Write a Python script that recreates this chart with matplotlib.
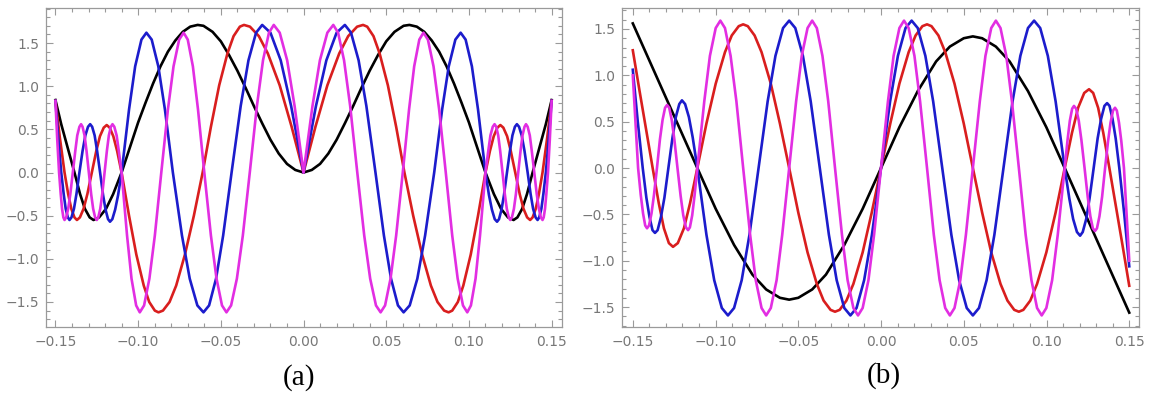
import matplotlib.pyplot as plt
from matplotlib.ticker import MultipleLocator
import numpy as np

# (x, y) points, panel (a)
a_black = [(-0.15, 0.84), (-0.1465, 0.56), (-0.1425, 0.28), (-0.1385, 0.0), (-0.1351, -0.25), (-0.1322, -0.42),
           (-0.1293, -0.52), (-0.127, -0.55), (-0.1236, -0.52), (-0.1194, -0.42), (-0.1151, -0.25), (-0.11, 0.0),
           (-0.105, 0.29), (-0.1, 0.58), (-0.0955, 0.81), (-0.091, 1.03), (-0.0865, 1.23), (-0.082, 1.40),
           (-0.0775, 1.53), (-0.073, 1.63), (-0.0685, 1.69), (-0.064, 1.71), (-0.0605, 1.70), (-0.055, 1.63),
           (-0.05, 1.52), (-0.045, 1.36), (-0.04, 1.18), (-0.035, 0.98), (-0.03, 0.77), (-0.025, 0.57),
           (-0.02, 0.38), (-0.015, 0.22), (-0.01, 0.10), (-0.005, 0.03), (0.0, 0.0),
           (0.005, 0.03), (0.01, 0.10), (0.015, 0.22), (0.02, 0.38), (0.025, 0.57), (0.03, 0.77), (0.035, 0.98),
           (0.04, 1.18), (0.045, 1.36), (0.05, 1.52), (0.055, 1.63), (0.0605, 1.70), (0.064, 1.71), (0.0685, 1.69),
           (0.073, 1.63), (0.0775, 1.53), (0.082, 1.40), (0.0865, 1.23), (0.091, 1.03), (0.0955, 0.81), (0.1, 0.58),
           (0.105, 0.29), (0.11, 0.0), (0.1151, -0.25), (0.1194, -0.42), (0.1236, -0.52), (0.127, -0.55),
           (0.1293, -0.52), (0.1322, -0.42), (0.1351, -0.25), (0.1385, 0.0), (0.1425, 0.28), (0.1465, 0.56),
           (0.15, 0.84)]

a_red = [(-0.15, 0.83), (-0.1473, 0.40), (-0.1445, 0.0), (-0.1423, -0.25), (-0.1404, -0.42), (-0.1385, -0.52),
         (-0.137, -0.55), (-0.1352, -0.52), (-0.133, -0.42), (-0.1307, -0.25), (-0.128, 0.0), (-0.1253, 0.25),
         (-0.1231, 0.42), (-0.1208, 0.52), (-0.119, 0.55), (-0.1172, 0.52), (-0.115, 0.42), (-0.1127, 0.25),
         (-0.11, 0.0), (-0.1055, -0.50), (-0.1011, -0.95), (-0.0966, -1.31), (-0.0933, -1.50), (-0.0899, -1.60),
         (-0.0877, -1.62), (-0.085, -1.60), (-0.081, -1.50), (-0.077, -1.31), (-0.0717, -0.95), (-0.0663, -0.50),
         (-0.061, 0.0), (-0.056, 0.53), (-0.051, 1.01), (-0.046, 1.38), (-0.0423, 1.58), (-0.0385, 1.69),
         (-0.036, 1.71), (-0.0324, 1.69), (-0.027, 1.58), (-0.0216, 1.38), (-0.0144, 1.01), (-0.0072, 0.53),
         (0.0, 0.0),
         (0.0072, 0.53), (0.0144, 1.01), (0.0216, 1.38), (0.027, 1.58), (0.0324, 1.69), (0.036, 1.71),
         (0.0385, 1.69), (0.0423, 1.58), (0.046, 1.38), (0.051, 1.01), (0.056, 0.53), (0.061, 0.0),
         (0.0663, -0.50), (0.0717, -0.95), (0.077, -1.31), (0.081, -1.50), (0.085, -1.60), (0.0877, -1.62),
         (0.0899, -1.60), (0.0933, -1.50), (0.0966, -1.31), (0.1011, -0.95), (0.1055, -0.50), (0.11, 0.0),
         (0.1127, 0.25), (0.115, 0.42), (0.1172, 0.52), (0.119, 0.55), (0.1208, 0.52), (0.1231, 0.42),
         (0.1253, 0.25), (0.128, 0.0), (0.1307, -0.25), (0.133, -0.42), (0.1352, -0.52), (0.137, -0.55),
         (0.1385, -0.52), (0.1404, -0.42), (0.1423, -0.25), (0.1445, 0.0), (0.1473, 0.40), (0.15, 0.83)]

a_blue = [(-0.15, 0.83), (-0.1483, 0.40), (-0.1465, 0.0), (-0.145, -0.25), (-0.1438, -0.42), (-0.1425, -0.52),
          (-0.1415, -0.55), (-0.1403, -0.52), (-0.1388, -0.42), (-0.1373, -0.25), (-0.1355, 0.0), (-0.1336, 0.25),
          (-0.1319, 0.43), (-0.1303, 0.53), (-0.129, 0.56), (-0.1278, 0.53), (-0.1263, 0.43), (-0.1248, 0.25),
          (-0.123, 0.0), (-0.1212, -0.26), (-0.1197, -0.43), (-0.1182, -0.54), (-0.117, -0.57), (-0.1156, -0.54),
          (-0.1139, -0.43), (-0.1121, -0.26), (-0.11, 0.0), (-0.1055, 0.73), (-0.1018, 1.23), (-0.098, 1.54),
          (-0.095, 1.62), (-0.0918, 1.54), (-0.0878, 1.23), (-0.0838, 0.73), (-0.079, 0.0), (-0.0735, -0.73),
          (-0.0688, -1.23), (-0.0642, -1.54), (-0.0605, -1.62), (-0.0571, -1.54), (-0.0529, -1.23),
          (-0.0486, -0.73), (-0.0435, 0.0), (-0.038, 0.77), (-0.0333, 1.30), (-0.0287, 1.62), (-0.025, 1.71),
          (-0.02, 1.62), (-0.0138, 1.30), (-0.0075, 0.77), (0.0, 0.0),
          (0.0075, 0.77), (0.0138, 1.30), (0.02, 1.62), (0.025, 1.71), (0.0287, 1.62), (0.0333, 1.30),
          (0.038, 0.77), (0.0435, 0.0), (0.0486, -0.73), (0.0529, -1.23), (0.0571, -1.54), (0.0605, -1.62),
          (0.0642, -1.54), (0.0688, -1.23), (0.0735, -0.73), (0.079, 0.0), (0.0838, 0.73), (0.0878, 1.23),
          (0.0918, 1.54), (0.095, 1.62), (0.098, 1.54), (0.1018, 1.23), (0.1055, 0.73), (0.11, 0.0),
          (0.1121, -0.26), (0.1139, -0.43), (0.1156, -0.54), (0.117, -0.57), (0.1182, -0.54), (0.1197, -0.43),
          (0.1212, -0.26), (0.123, 0.0), (0.1248, 0.25), (0.1263, 0.43), (0.1278, 0.53), (0.129, 0.56),
          (0.1303, 0.53), (0.1319, 0.43), (0.1336, 0.25), (0.1355, 0.0), (0.1373, -0.25), (0.1388, -0.42),
          (0.1403, -0.52), (0.1415, -0.55), (0.1425, -0.52), (0.1438, -0.42), (0.145, -0.25), (0.1465, 0.0),
          (0.1483, 0.40), (0.15, 0.83)]

a_magenta = [(-0.15, 0.83), (-0.1489, 0.38), (-0.1478, 0.0), (-0.1468, -0.25), (-0.146, -0.42), (-0.1452, -0.52),
             (-0.1445, -0.55), (-0.1435, -0.52), (-0.1423, -0.42), (-0.141, -0.25), (-0.1395, 0.0), (-0.138, 0.25),
             (-0.1368, 0.43), (-0.1355, 0.53), (-0.1345, 0.56), (-0.1336, 0.53), (-0.1324, 0.43), (-0.1312, 0.25),
             (-0.1298, 0.0), (-0.1284, -0.25), (-0.1272, -0.42), (-0.126, -0.52), (-0.125, -0.55), (-0.1241, -0.52),
             (-0.1229, -0.42), (-0.1217, -0.25), (-0.1203, 0.0), (-0.1189, 0.25), (-0.1177, 0.43), (-0.1165, 0.53),
             (-0.1155, 0.56), (-0.1144, 0.53), (-0.113, 0.43), (-0.1117, 0.25), (-0.11, 0.0), (-0.1067, -0.73),
             (-0.104, -1.23), (-0.1012, -1.54), (-0.099, -1.62), (-0.0964, -1.54), (-0.0932, -1.23),
             (-0.0899, -0.73), (-0.086, 0.0), (-0.082, 0.73), (-0.0786, 1.23), (-0.0752, 1.54), (-0.0725, 1.62),
             (-0.07, 1.54), (-0.0669, 1.23), (-0.0638, 0.73), (-0.06, 0.0), (-0.056, -0.73), (-0.0526, -1.23),
             (-0.0493, -1.54), (-0.0466, -1.62), (-0.0438, -1.54), (-0.0403, -1.23), (-0.0367, -0.73),
             (-0.0325, 0.0), (-0.0282, 0.77), (-0.0245, 1.30), (-0.0209, 1.62), (-0.018, 1.71), (-0.0144, 1.62),
             (-0.0099, 1.30), (-0.0054, 0.77), (0.0, 0.0),
             (0.0054, 0.77), (0.0099, 1.30), (0.0144, 1.62), (0.018, 1.71), (0.0209, 1.62), (0.0245, 1.30),
             (0.0282, 0.77), (0.0325, 0.0), (0.0367, -0.73), (0.0403, -1.23), (0.0438, -1.54), (0.0466, -1.62),
             (0.0493, -1.54), (0.0526, -1.23), (0.056, -0.73), (0.06, 0.0), (0.0638, 0.73), (0.0669, 1.23),
             (0.07, 1.54), (0.0725, 1.62), (0.0752, 1.54), (0.0786, 1.23), (0.082, 0.73), (0.086, 0.0),
             (0.0899, -0.73), (0.0932, -1.23), (0.0964, -1.54), (0.099, -1.62), (0.1012, -1.54), (0.104, -1.23),
             (0.1067, -0.73), (0.11, 0.0), (0.1117, 0.25), (0.113, 0.43), (0.1144, 0.53), (0.1155, 0.56),
             (0.1165, 0.53), (0.1177, 0.43), (0.1189, 0.25), (0.1203, 0.0), (0.1217, -0.25), (0.1229, -0.42),
             (0.1241, -0.52), (0.125, -0.55), (0.126, -0.52), (0.1272, -0.42), (0.1284, -0.25), (0.1298, 0.0),
             (0.1312, 0.25), (0.1324, 0.43), (0.1336, 0.53), (0.1345, 0.56), (0.1355, 0.53), (0.1368, 0.43),
             (0.138, 0.25), (0.1395, 0.0), (0.141, -0.25), (0.1423, -0.42), (0.1435, -0.52), (0.1445, -0.55),
             (0.1452, -0.52), (0.146, -0.42), (0.1468, -0.25), (0.1478, 0.0), (0.1489, 0.38), (0.15, 0.83)]

# panel (b)
b_black = [(-0.15, 1.56), (-0.14, 1.16), (-0.13, 0.76), (-0.12, 0.36), (-0.111, 0.0), (-0.0999, -0.44),
           (-0.0888, -0.83), (-0.0777, -1.15), (-0.0694, -1.31), (-0.0611, -1.40), (-0.0555, -1.42),
           (-0.05, -1.40), (-0.0416, -1.31), (-0.0333, -1.15), (-0.0222, -0.83), (-0.0111, -0.44), (0.0, 0.0),
           (0.0111, 0.44), (0.0222, 0.83), (0.0333, 1.15), (0.0416, 1.31), (0.05, 1.40), (0.0555, 1.42),
           (0.0611, 1.40), (0.0694, 1.31), (0.0777, 1.15), (0.0888, 0.83), (0.0999, 0.44), (0.111, 0.0),
           (0.12, -0.36), (0.13, -0.76), (0.14, -1.16), (0.15, -1.56)]

b_red = [(-0.15, 1.27), (-0.146, 0.84), (-0.142, 0.42), (-0.138, 0.0), (-0.1343, -0.38), (-0.1312, -0.65),
         (-0.1282, -0.81), (-0.1257, -0.85), (-0.1228, -0.81), (-0.1191, -0.65), (-0.1154, -0.38), (-0.111, 0.0),
         (-0.1055, 0.48), (-0.0999, 0.91), (-0.0943, 1.25), (-0.0902, 1.43), (-0.086, 1.53), (-0.0833, 1.55),
         (-0.0805, 1.53), (-0.0764, 1.43), (-0.0722, 1.25), (-0.0666, 0.91), (-0.0611, 0.48), (-0.0555, 0.0),
         (-0.05, -0.48), (-0.0444, -0.91), (-0.0388, -1.25), (-0.0347, -1.43), (-0.0305, -1.53), (-0.0278, -1.55),
         (-0.025, -1.53), (-0.0209, -1.43), (-0.0167, -1.25), (-0.0111, -0.91), (-0.0056, -0.48), (0.0, 0.0),
         (0.0056, 0.48), (0.0111, 0.91), (0.0167, 1.25), (0.0209, 1.43), (0.025, 1.53), (0.0278, 1.55),
         (0.0305, 1.53), (0.0347, 1.43), (0.0388, 1.25), (0.0444, 0.91), (0.05, 0.48), (0.0555, 0.0),
         (0.0611, -0.48), (0.0666, -0.91), (0.0722, -1.25), (0.0764, -1.43), (0.0805, -1.53), (0.0833, -1.55),
         (0.086, -1.53), (0.0902, -1.43), (0.0943, -1.25), (0.0999, -0.91), (0.1055, -0.48), (0.111, 0.0),
         (0.1154, 0.38), (0.1191, 0.65), (0.1228, 0.81), (0.1257, 0.85), (0.1282, 0.81), (0.1312, 0.65),
         (0.1343, 0.38), (0.138, 0.0), (0.142, -0.42), (0.146, -0.84), (0.15, -1.27)]

b_blue = [(-0.15, 1.06), (-0.147, 0.50), (-0.144, 0.0), (-0.1418, -0.32), (-0.1399, -0.53), (-0.1381, -0.67),
          (-0.1366, -0.70), (-0.135, -0.67), (-0.133, -0.53), (-0.1309, -0.32), (-0.1285, 0.0), (-0.126, 0.33),
          (-0.124, 0.55), (-0.1219, 0.69), (-0.1203, 0.73), (-0.1184, 0.69), (-0.1161, 0.55), (-0.1138, 0.33),
          (-0.111, 0.0), (-0.1055, -0.72), (-0.1008, -1.21), (-0.0962, -1.51), (-0.0925, -1.59), (-0.0888, -1.51),
          (-0.0842, -1.21), (-0.0795, -0.72), (-0.074, 0.0), (-0.0685, 0.72), (-0.0638, 1.21), (-0.0592, 1.51),
          (-0.0555, 1.59), (-0.0518, 1.51), (-0.0472, 1.21), (-0.0425, 0.72), (-0.037, 0.0), (-0.0315, -0.72),
          (-0.0268, -1.21), (-0.0222, -1.51), (-0.0185, -1.59), (-0.0148, -1.51), (-0.0102, -1.21),
          (-0.0055, -0.72), (0.0, 0.0), (0.0055, 0.72), (0.0102, 1.21), (0.0148, 1.51), (0.0185, 1.59),
          (0.0222, 1.51), (0.0268, 1.21), (0.0315, 0.72), (0.037, 0.0), (0.0425, -0.72), (0.0472, -1.21),
          (0.0518, -1.51), (0.0555, -1.59), (0.0592, -1.51), (0.0638, -1.21), (0.0685, -0.72), (0.074, 0.0),
          (0.0795, 0.72), (0.0842, 1.21), (0.0888, 1.51), (0.0925, 1.59), (0.0962, 1.51), (0.1008, 1.21),
          (0.1055, 0.72), (0.111, 0.0), (0.1138, -0.33), (0.1161, -0.55), (0.1184, -0.69), (0.1203, -0.73),
          (0.1219, -0.69), (0.124, -0.55), (0.126, -0.33), (0.1285, 0.0), (0.1309, 0.32), (0.133, 0.53),
          (0.135, 0.67), (0.1366, 0.70), (0.1381, 0.67), (0.1399, 0.53), (0.1418, 0.32), (0.144, 0.0),
          (0.147, -0.50), (0.15, -1.06)]

b_magenta = [(-0.15, 1.0), (-0.1484, 0.50), (-0.1468, 0.0), (-0.1452, -0.29), (-0.1438, -0.49), (-0.1425, -0.62),
             (-0.1414, -0.65), (-0.1402, -0.62), (-0.1387, -0.49), (-0.1372, -0.29), (-0.1354, 0.0), (-0.1336, 0.31),
             (-0.132, 0.52), (-0.1305, 0.65), (-0.1293, 0.68), (-0.128, 0.65), (-0.1265, 0.52), (-0.1249, 0.31),
             (-0.123, 0.0), (-0.1211, -0.30), (-0.1195, -0.51), (-0.1179, -0.64), (-0.1166, -0.67), (-0.1155, -0.64),
             (-0.1141, -0.51), (-0.1127, -0.30), (-0.111, 0.0), (-0.1068, 0.72), (-0.1034, 1.21), (-0.0999, 1.51),
             (-0.0971, 1.59), (-0.0943, 1.51), (-0.0909, 1.21), (-0.0874, 0.72), (-0.0833, 0.0), (-0.0791, -0.72),
             (-0.0757, -1.21), (-0.0722, -1.51), (-0.0694, -1.59), (-0.0666, -1.51), (-0.0631, -1.21),
             (-0.0597, -0.72), (-0.0555, 0.0), (-0.0513, 0.72), (-0.0479, 1.21), (-0.0444, 1.51), (-0.0416, 1.59),
             (-0.0388, 1.51), (-0.0354, 1.21), (-0.0319, 0.72), (-0.0278, 0.0), (-0.0236, -0.72), (-0.0202, -1.21),
             (-0.0167, -1.51), (-0.0139, -1.59), (-0.0111, -1.51), (-0.0076, -1.21), (-0.0042, -0.72), (0.0, 0.0),
             (0.0042, 0.72), (0.0076, 1.21), (0.0111, 1.51), (0.0139, 1.59), (0.0167, 1.51), (0.0202, 1.21),
             (0.0236, 0.72), (0.0278, 0.0), (0.0319, -0.72), (0.0354, -1.21), (0.0388, -1.51), (0.0416, -1.59),
             (0.0444, -1.51), (0.0479, -1.21), (0.0513, -0.72), (0.0555, 0.0), (0.0597, 0.72), (0.0631, 1.21),
             (0.0666, 1.51), (0.0694, 1.59), (0.0722, 1.51), (0.0757, 1.21), (0.0791, 0.72), (0.0833, 0.0),
             (0.0874, -0.72), (0.0909, -1.21), (0.0943, -1.51), (0.0971, -1.59), (0.0999, -1.51), (0.1034, -1.21),
             (0.1068, -0.72), (0.111, 0.0), (0.1127, 0.30), (0.1141, 0.51), (0.1155, 0.64), (0.1166, 0.67),
             (0.1179, 0.64), (0.1195, 0.51), (0.1211, 0.30), (0.123, 0.0), (0.1249, -0.31), (0.1265, -0.52),
             (0.128, -0.65), (0.1293, -0.68), (0.1305, -0.65), (0.132, -0.52), (0.1336, -0.31), (0.1354, 0.0),
             (0.1372, 0.29), (0.1387, 0.49), (0.1402, 0.62), (0.1414, 0.65), (0.1425, 0.62), (0.1438, 0.49),
             (0.1452, 0.29), (0.1468, 0.0), (0.1484, -0.50), (0.15, -1.0)]

xticks = [-0.15, -0.10, -0.05, 0.0, 0.05, 0.10, 0.15]
xticklabels = ["\u22120.15", "\u22120.10", "\u22120.05", "0.00", "0.05", "0.10", "0.15"]
yticks = [-1.5, -1.0, -0.5, 0.0, 0.5, 1.0, 1.5]
yticklabels = ["\u22121.5", "\u22121.0", "\u22120.5", "0.0", "0.5", "1.0", "1.5"]
panel_names = ["(a)", "(b)"]

line_colors = ["#000000", "#d91e1e", "#1c1ccc", "#e22ee2"]
frame_gray = "#9a9a9a"
label_gray = "#777777"


def style_axes(ax, xlim, ylim):
    ax.set_xlim(xlim)
    ax.set_ylim(ylim)
    ax.set_xticks(xticks)
    ax.set_xticklabels(xticklabels)
    ax.set_yticks(yticks)
    ax.set_yticklabels(yticklabels)
    ax.xaxis.set_minor_locator(MultipleLocator(0.01))
    ax.yaxis.set_minor_locator(MultipleLocator(0.1))
    ax.tick_params(which="both", direction="in", top=True, right=True, color=frame_gray,
                   width=0.8, labelcolor=label_gray, labelsize=10)
    ax.tick_params(which="major", length=5)
    ax.tick_params(which="minor", length=2.8)
    ax.tick_params(axis="x", pad=6)
    ax.tick_params(axis="y", pad=5)
    for s in ax.spines.values():
        s.set_color(frame_gray)
        s.set_linewidth(0.9)


fig = plt.figure(figsize=(11.56, 3.97), dpi=100)
ax_a = fig.add_axes([0.0398, 0.1763, 0.4464, 0.8035])
ax_b = fig.add_axes([0.5381, 0.1763, 0.4472, 0.8035])

for pts, c in zip([a_black, a_red, a_blue, a_magenta], line_colors):
    xy = np.array(pts)
    ax_a.plot(xy[:, 0], xy[:, 1], color=c, linewidth=1.9, solid_joinstyle="round")

for pts, c in zip([b_black, b_red, b_blue, b_magenta], line_colors):
    xy = np.array(pts)
    ax_b.plot(xy[:, 0], xy[:, 1], color=c, linewidth=1.9, solid_joinstyle="round")

style_axes(ax_a, (-0.1557, 0.1563), (-1.79, 1.906))
style_axes(ax_b, (-0.1565, 0.1559), (-1.715, 1.726))

fig.text(298.5 / 1156, 1 - 378 / 397, panel_names[0], ha="center", va="center",
         fontsize=21, family="Liberation Serif")
fig.text(884 / 1156, 1 - 376 / 397, panel_names[1], ha="center", va="center",
         fontsize=21, family="Liberation Serif")

fig.savefig("out.png", dpi=100)
